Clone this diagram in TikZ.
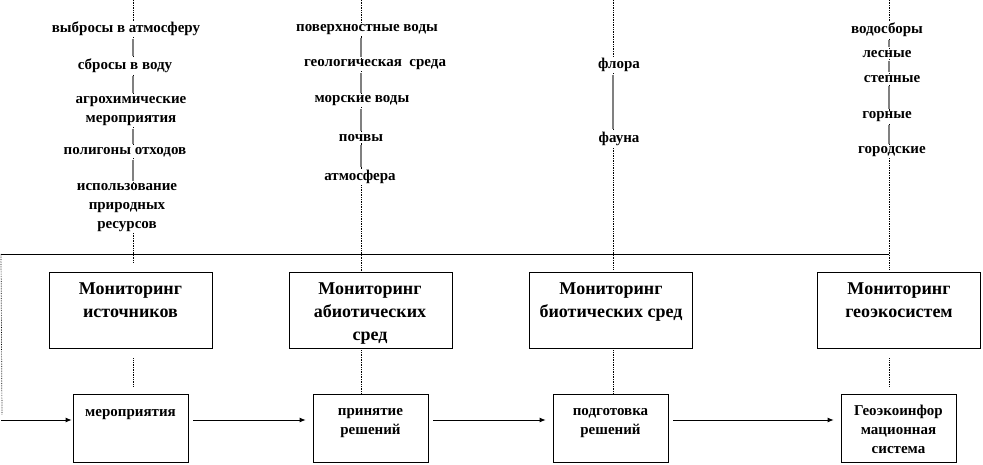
\documentclass[tikz,border=0pt]{standalone}
\usepackage{fontspec}
\setmainfont{Liberation Serif}
\usetikzlibrary{positioning,arrows.meta}

\tikzset{
  mbox/.style={draw, line width=0.8pt, minimum width=163pt, minimum height=76pt, inner sep=0pt},
  rbox/.style={draw, line width=0.8pt, minimum width=115pt, minimum height=68pt, inner sep=0pt},
  title/.style={font=\fontsize{18}{23}\selectfont\bfseries, align=center, anchor=base, inner sep=0pt},
  rtext/.style={font=\fontsize{15}{19}\selectfont\bfseries, align=center, anchor=base, inner sep=0pt},
  item/.style={font=\fontsize{15}{19}\selectfont\bfseries, align=center, fill=white, inner sep=1pt},
  axis/.style={densely dotted, line width=0.7pt},
  link/.style={gray, line width=1.4pt, shorten <=2pt, shorten >=2pt},
  flow/.style={-{Latex[length=6pt,width=5pt]}, line width=0.8pt, shorten <=5pt, shorten >=7pt},
}

\begin{document}
\begin{tikzpicture}[x=1pt, y=-1pt]
  \useasboundingbox (0,0) rectangle (983,465);
  % Column tops and ends
  \coordinate (c1) at (133,0);   \coordinate (e1) at (133,263);
  \coordinate (c2) at (361,0);   \coordinate (e2) at (361,272);
  \coordinate (c3) at (613,0);   \coordinate (e3) at (613,270);
  \coordinate (c4) at (889,0);   \coordinate (e4) at (889,270);
  \foreach \i in {1,...,4}{
    \draw[axis] (c\i) -- (e\i);
  }
  % Collecting line and feedback loop
  \coordinate (hl) at (1,254);
  \coordinate (hr) at (889,254);
  \coordinate (vl) at (2,415);
  \coordinate (lin) at (1,420);
  \draw[line width=0.8pt] (hl) -- (hr);
  \draw[axis] (hl) -- (vl);

  % Monitoring boxes (base = last line)
  \node[mbox] (m1) at (130.5,310) {};
  \node[mbox] (m2) at (371,310) {};
  \node[mbox] (m3) at (611,310) {};
  \node[mbox] (m4) at (899,310) {};
  \node[title] (t1) at (130.5,317) {Мониторинг\\источников};
  \node[title] (t2) at (370,340) {Мониторинг\\абиотических\\сред};
  \node[title] (t3) at (611,317) {Мониторинг\\биотических сред};
  \node[title] (t4) at (899,317) {Мониторинг\\геоэкосистем};

  % Result boxes
  \node[rbox] (r1) at (130.5,428) {};
  \node[rbox] (r2) at (370.5,428) {};
  \node[rbox] (r3) at (610.5,428) {};
  \node[rbox] (r4) at (898.5,428) {};
  \node[rtext] (s1) at (130.5,416) {мероприятия};
  \node[rtext] (s2) at (370.5,434) {принятие\\решений};
  \node[rtext] (s3) at (610.5,434) {подготовка\\решений};
  \node[rtext] (s4) at (898.5,453) {Геоэкоинфор\\мационная\\система};

  % Box to box links
  \draw[axis] ([yshift=-10pt]m1.south -| c1) -- ([yshift=7pt]r1.north -| c1);
  \draw[axis] (m2.south -| c2) -- (r2.north -| c2);
  \draw[axis] (m3.south -| c3) -- (r3.north -| c3);
  \draw[axis] ([yshift=-10pt]m4.south -| c4) -- ([yshift=7pt]r4.north -| c4);

  % Flow of decisions
  \draw[flow, shorten <=0pt, shorten >=1pt] (lin) -- (r1.west |- lin);
  \draw[flow] (r1.east |- lin) -- (r2.west |- lin);
  \draw[flow] (r2.east |- lin) -- (r3.west |- lin);
  \draw[flow] (r3.east |- lin) -- (r4.west |- lin);

  % Objects of observation
  \foreach \n/\x/\y/\t in {%
    a1/126/29/{выбросы в атмосферу},
    a2/125/66/{сбросы в воду},
    a3/131/111/{агрохимические\\мероприятия},
    a4/125/152/{полигоны отходов},
    a5/127/208/{использование\\природных\\ресурсов},   % sources
    b1/367/30/{поверхностные воды},
    b2/375/65/{геологическая\ \ среда},
    b3/362/101/{морские воды},
    b4/361/138/{почвы},
    b5/360/177/{атмосфера},                            % abiotic
    f1/619/65/{флора},
    f2/619/139/{фауна},                                % biotic
    g1/887/30/{водосборы},
    g2/887/54/{лесные},
    g3/892/79/{степные},
    g4/887/117/{горные},
    g5/892/152/{городские}%                            % geosystems
  }{
    \node[item] (\n) at (\x,\y) {\t};
  }
  \foreach \a/\b/\c in {a1/a2/c1, a2/a3/c1, a3/a4/c1, a4/a5/c1,
                        b1/b2/c2, b2/b3/c2, b3/b4/c2, b4/b5/c2,
                        f1/f2/c3,
                        g1/g2/c4, g2/g3/c4, g3/g4/c4, g4/g5/c4}{
    \draw[link] (\a.south -| \c) -- (\b.north -| \c);
  }
\end{tikzpicture}
\end{document}
